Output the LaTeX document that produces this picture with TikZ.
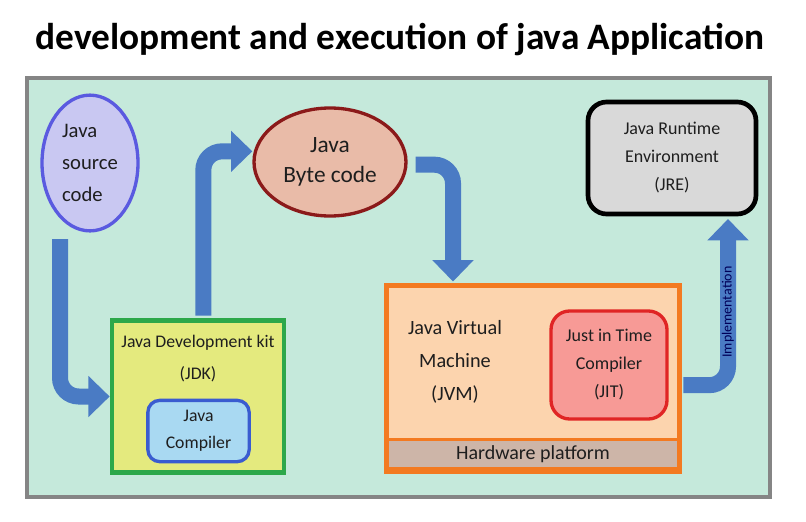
\documentclass[tikz,border=0pt]{standalone}
\usepackage{fontspec}
\setmainfont{Carlito}
\usepackage{tikz}
\usetikzlibrary{arrows.meta, positioning, shapes.geometric, calc}

\definecolor{bgmint}{HTML}{C5E9DB}
\definecolor{framegray}{HTML}{858585}
\definecolor{srcfill}{HTML}{C9C8F2}
\definecolor{srcedge}{HTML}{5A5AE0}
\definecolor{bytefill}{HTML}{E9BBA8}
\definecolor{byteedge}{HTML}{8B1A1A}
\definecolor{jrefill}{HTML}{D9D9D9}
\definecolor{jdkfill}{HTML}{E4EA7E}
\definecolor{jdkedge}{HTML}{2DA84A}
\definecolor{compfill}{HTML}{A9D9F2}
\definecolor{compedge}{HTML}{3A5CD0}
\definecolor{jvmfill}{HTML}{FCD4AE}
\definecolor{jvmedge}{HTML}{F37A21}
\definecolor{jitfill}{HTML}{F79A96}
\definecolor{jitedge}{HTML}{E02525}
\definecolor{hwfill}{HTML}{CDB5A8}
\definecolor{arrblue}{HTML}{4A7BC4}
\definecolor{ink}{HTML}{1E1E1E}

\begin{document}
\begin{tikzpicture}[
    x=0.75pt, y=-0.75pt,
    oval/.style={ellipse, draw=#1, line width=2.5pt, inner sep=0pt, align=center, text=ink},
    card/.style={draw, line width=3.5pt, align=center, text=ink},
    blockarr/.style={draw=arrblue, line width=12pt, rounded corners=14pt,
        -{Triangle[length=16pt, width=30pt]}},
    lbl/.style={align=center, text=ink},
]
\useasboundingbox (0,0) rectangle (806,521);

% Title
\node[font=\fontsize{28}{32}\selectfont\bfseries] (title) at (400,40)
    {development and execution of java Application};

% Frame
\node[draw=framegray, fill=bgmint, line width=3pt, minimum width=557pt,
      minimum height=314pt] (frame) at (398.5,287.5) {};

% Top row
\node[oval=srcedge, fill=srcfill, minimum width=72pt, minimum height=94pt,
      font=\fontsize{15.5}{24}\selectfont] (src) at (90,163)
    {\begin{tabular}{@{}l@{}}Java\\source\\code\end{tabular}};
\node[oval=byteedge, fill=bytefill, minimum width=114pt, minimum height=81pt,
      font=\fontsize{17.5}{23}\selectfont] (byte) at (330,162) {Java\\Byte code};
\node[card, draw=black, fill=jrefill, rounded corners=14pt, minimum width=126pt,
      minimum height=84pt, font=\fontsize{13.5}{21}\selectfont] (jre) at (672,158)
    {Java Runtime\\Environment\\(JRE)};

% JDK
\node[card, draw=jdkedge, fill=jdkfill, minimum width=129pt, minimum height=114pt]
    (jdk) at (198,396.5) {};
\node[lbl, font=\fontsize{13.3}{24}\selectfont] (jdktxt) at (198,359)
    {Java Development kit\\(JDK)};
\node[card, draw=compedge, fill=compfill, line width=2.5pt, rounded corners=9pt,
      minimum width=76pt, minimum height=46pt, font=\fontsize{13.3}{20}\selectfont]
    (comp) at (198.5,431) {Java\\Compiler};

% JVM
\node[card, draw=jvmedge, fill=jvmfill, minimum width=220pt, minimum height=140pt]
    (jvm) at (533,378.5) {};
\node[draw=jvmedge, fill=hwfill, line width=2.5pt, minimum width=218pt,
      minimum height=22pt, text=ink, font=\fontsize{15}{17}\selectfont]
    (hw) at (533,454) {Hardware platform};
\node[lbl, font=\fontsize{15.2}{25}\selectfont] (jvmtxt) at (455,362)
    {Java Virtual\\Machine\\(JVM)};
\node[card, draw=jitedge, fill=jitfill, line width=2.5pt, rounded corners=14pt,
      minimum width=87pt, minimum height=81pt, font=\fontsize{13.5}{21}\selectfont]
    (jit) at (609,365) {Just in Time\\Compiler\\(JIT)};

% Flow arrows
\draw[blockarr] ([xshift=-22.5pt, yshift=-5pt]src.south) |- (jdk.west);
\draw[blockarr] ([xshift=4pt, yshift=2pt]jdk.north) |- ([yshift=8pt]byte.west);
\draw[blockarr] ([xshift=6pt, yshift=-2pt]byte.east) -| ([xshift=-60pt, yshift=1pt]jvm.north);
\draw[blockarr] ([xshift=1pt, yshift=-5pt]jvm.east) -| ([xshift=42pt, yshift=-2pt]jre.south)
    node[pos=0.72, sloped, font=\fontsize{10.5}{12}\selectfont, text=blue!35!black] {Implementation};

\end{tikzpicture}
\end{document}
